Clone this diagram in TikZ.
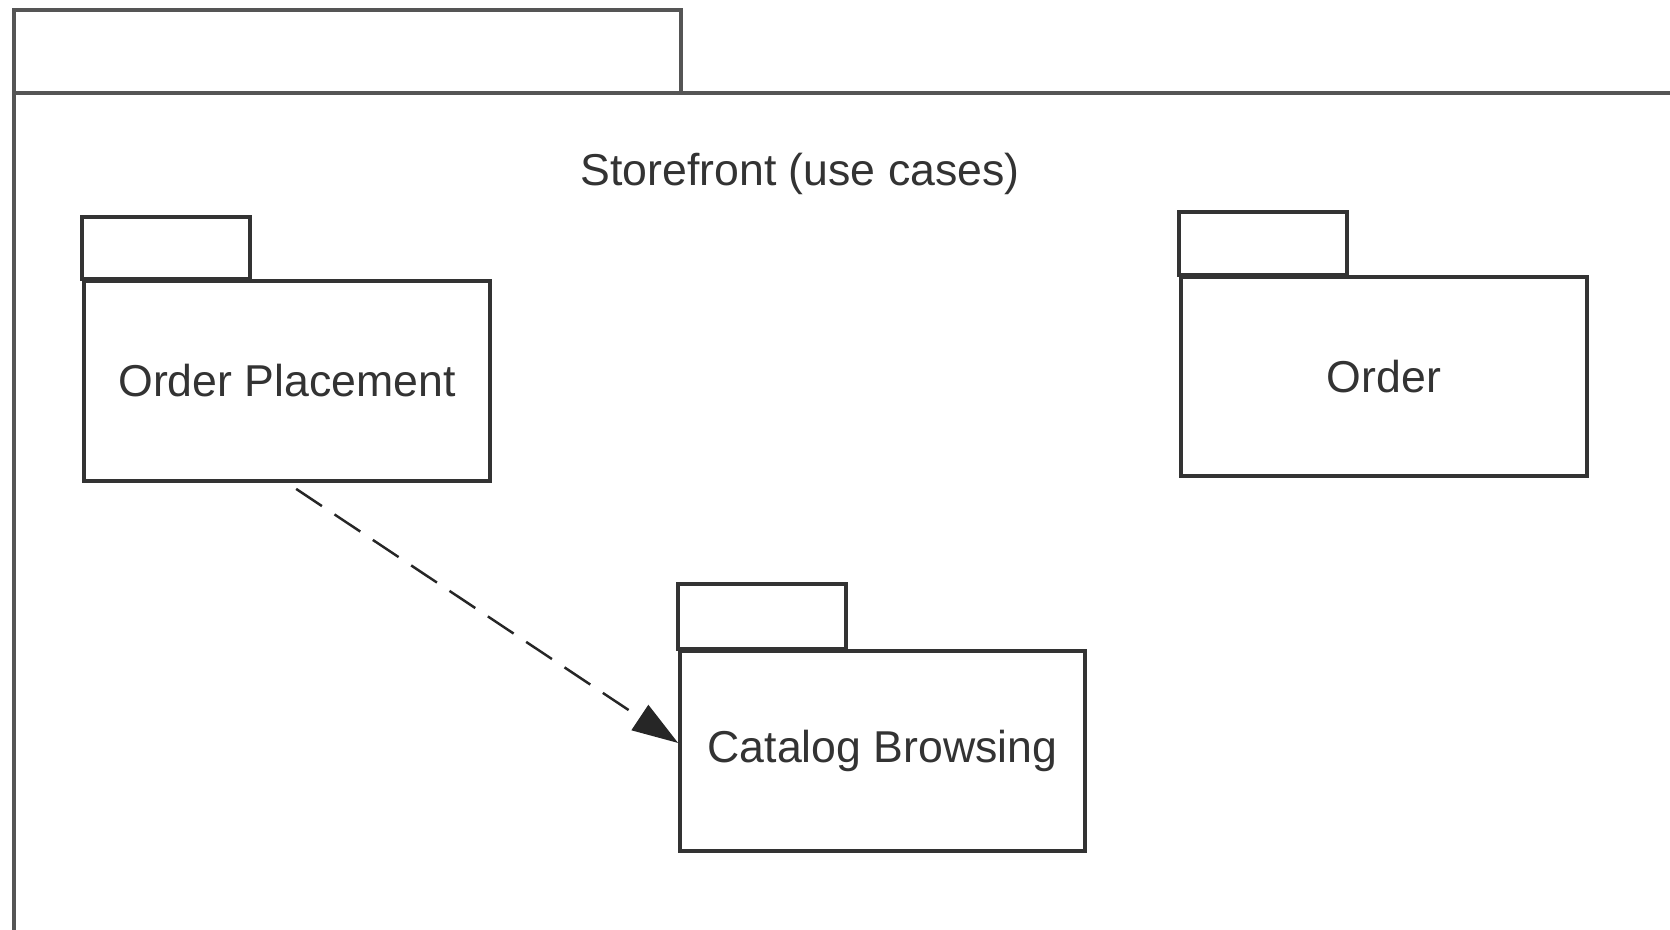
\documentclass[tikz,border=0pt]{standalone}
\usepackage{fontspec}
\setmainfont{Liberation Sans}
\usetikzlibrary{arrows.meta,positioning}

\definecolor{framegray}{HTML}{555555}
\definecolor{boxgray}{HTML}{333333}

\begin{document}
\begin{tikzpicture}[
    frame_line/.style={draw=framegray, line width=1pt},
    package/.style={rectangle, draw=boxgray, line width=1.05pt, minimum width=4.06cm, minimum height=2cm, text=boxgray, font=\fontsize{12.7}{15}\selectfont},
    package_tab/.style={draw=boxgray, line width=1.05pt},
    title_label/.style={text=boxgray, font=\fontsize{12.7}{15}\selectfont},
    dependency/.style={draw=black!85, line width=0.7pt, dash pattern=on 8.8pt off 4.3pt, -{Triangle[length=4.6mm, width=3mm]}}
]

\useasboundingbox (0,0) rectangle (16.7,9.3);
\fill[white] (0,0) rectangle (16.7,9.3);

% Outer frame
\draw[frame_line] (0.14,8.37) rectangle (6.81,9.20);
\draw[frame_line] (0.14,0) -- (0.14,8.37) -- (16.7,8.37);

% Title
\node[title_label] (title) at (8.00,7.56) {Storefront (use cases)};

% Packages
\node[package] (placement) at (2.87,5.49) {Order Placement};
\draw[package_tab] (placement.north west) rectangle ++(1.68,0.62);

\node[package, minimum height=1.99cm] (order) at (13.84,5.535) {Order};
\draw[package_tab] (order.north west) rectangle ++(1.68,0.63);

\node[package, minimum width=4.05cm] (browsing) at (8.825,1.79) {Catalog Browsing};
\draw[package_tab] (browsing.north west) rectangle ++(1.68,0.65);

% Dependency
\draw[dependency, shorten <=1.1mm] (placement.south) -- ([yshift=0.8mm]browsing.west);

\end{tikzpicture}
\end{document}
